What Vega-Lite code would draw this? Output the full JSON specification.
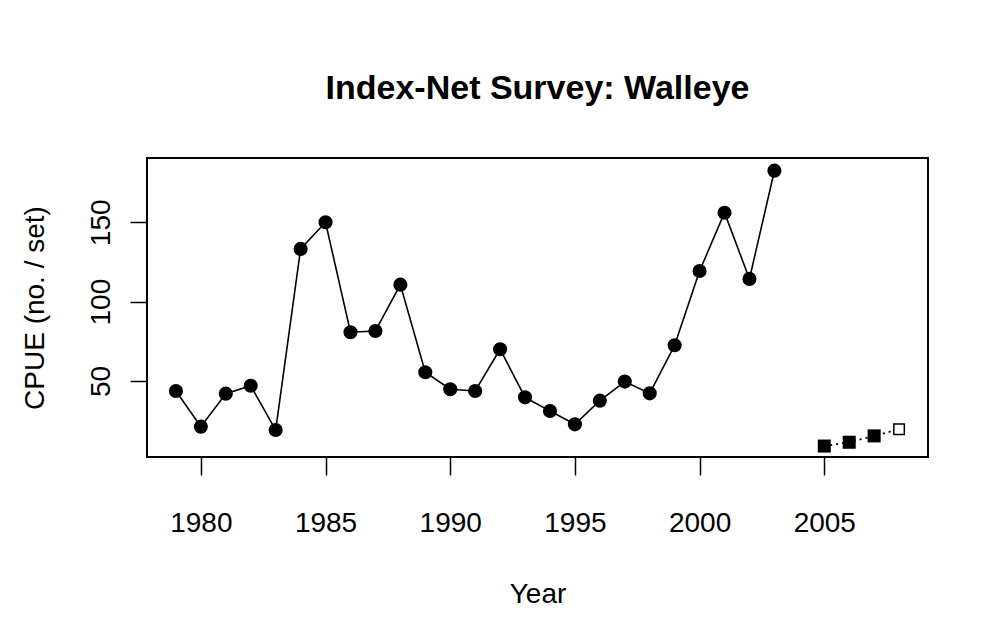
{
  "$schema": "https://vega.github.io/schema/vega-lite/v6.json",
  "autosize": {"type": "none"},
  "padding": {"left": 147, "top": 158, "right": 59, "bottom": 181},
  "width": 781,
  "height": 299,
  "background": "white",
  "title": {
    "text": "Index-Net Survey: Walleye",
    "font": "Liberation Sans",
    "fontSize": 34,
    "fontWeight": "bold",
    "color": "black",
    "anchor": "middle",
    "baseline": "alphabetic",
    "offset": 25
  },
  "data": {
    "values": [
      {"year": 1979, "cpue": 43.7, "series": "survey", "marker": "filled"},
      {"year": 1980, "cpue": 21.2, "series": "survey", "marker": "filled"},
      {"year": 1981, "cpue": 42.0, "series": "survey", "marker": "filled"},
      {"year": 1982, "cpue": 47.0, "series": "survey", "marker": "filled"},
      {"year": 1983, "cpue": 19.1, "series": "survey", "marker": "filled"},
      {"year": 1984, "cpue": 133.2, "series": "survey", "marker": "filled"},
      {"year": 1985, "cpue": 150.0, "series": "survey", "marker": "filled"},
      {"year": 1986, "cpue": 80.7, "series": "survey", "marker": "filled"},
      {"year": 1987, "cpue": 81.5, "series": "survey", "marker": "filled"},
      {"year": 1988, "cpue": 110.7, "series": "survey", "marker": "filled"},
      {"year": 1989, "cpue": 55.5, "series": "survey", "marker": "filled"},
      {"year": 1990, "cpue": 44.8, "series": "survey", "marker": "filled"},
      {"year": 1991, "cpue": 43.7, "series": "survey", "marker": "filled"},
      {"year": 1992, "cpue": 70.0, "series": "survey", "marker": "filled"},
      {"year": 1993, "cpue": 39.7, "series": "survey", "marker": "filled"},
      {"year": 1994, "cpue": 31.1, "series": "survey", "marker": "filled"},
      {"year": 1995, "cpue": 22.7, "series": "survey", "marker": "filled"},
      {"year": 1996, "cpue": 37.6, "series": "survey", "marker": "filled"},
      {"year": 1997, "cpue": 49.6, "series": "survey", "marker": "filled"},
      {"year": 1998, "cpue": 42.2, "series": "survey", "marker": "filled"},
      {"year": 1999, "cpue": 72.5, "series": "survey", "marker": "filled"},
      {"year": 2000, "cpue": 119.3, "series": "survey", "marker": "filled"},
      {"year": 2001, "cpue": 156.0, "series": "survey", "marker": "filled"},
      {"year": 2002, "cpue": 114.3, "series": "survey", "marker": "filled"},
      {"year": 2003, "cpue": 182.5, "series": "survey", "marker": "filled"},
      {"year": 2005, "cpue": 9.0, "series": "new", "marker": "filled"},
      {"year": 2006, "cpue": 11.4, "series": "new", "marker": "filled"},
      {"year": 2007, "cpue": 15.4, "series": "new", "marker": "filled"},
      {"year": 2008, "cpue": 19.6, "series": "new", "marker": "open"}
    ]
  },
  "encoding": {
    "x": {
      "field": "year",
      "type": "quantitative",
      "scale": {"domain": [1977.84, 2009.16], "nice": false, "zero": false},
      "axis": {
        "title": "Year",
        "values": [1980, 1985, 1990, 1995, 2000, 2005],
        "format": "d",
        "grid": false,
        "domain": false,
        "tickSize": 18,
        "tickColor": "black",
        "tickWidth": 1.5,
        "labelFont": "Liberation Sans",
        "labelFontSize": 28,
        "labelColor": "black",
        "labelBaseline": "alphabetic",
        "labelPadding": 56,
        "labelFlush": false,
        "labelOverlap": false,
        "titleFont": "Liberation Sans",
        "titleFontSize": 28,
        "titleFontWeight": "normal",
        "titleColor": "black",
        "titleBaseline": "alphabetic",
        "titlePadding": 65
      }
    },
    "y": {
      "field": "cpue",
      "type": "quantitative",
      "scale": {"domain": [2.1, 190.5], "nice": false, "zero": false},
      "axis": {
        "title": "CPUE (no. / set)",
        "values": [50, 100, 150],
        "grid": false,
        "domain": false,
        "tickSize": 17,
        "tickColor": "black",
        "tickWidth": 1.5,
        "labelFont": "Liberation Sans",
        "labelFontSize": 28,
        "labelColor": "black",
        "labelAngle": -90,
        "labelAlign": "center",
        "labelBaseline": "alphabetic",
        "labelPadding": 21,
        "labelFlush": false,
        "labelOverlap": false,
        "titleFont": "Liberation Sans",
        "titleFontSize": 28,
        "titleFontWeight": "normal",
        "titleColor": "black",
        "titleBaseline": "alphabetic",
        "titlePadding": 44
      }
    }
  },
  "layer": [
    {
      "transform": [{"filter": "datum.series === 'survey'"}],
      "mark": {"type": "line", "color": "black", "strokeWidth": 1.6}
    },
    {
      "transform": [{"filter": "datum.series === 'new'"}],
      "mark": {"type": "line", "color": "black", "strokeWidth": 1.8, "strokeDash": [2, 4]}
    },
    {
      "transform": [{"filter": "datum.series === 'survey'"}],
      "mark": {"type": "point", "shape": "circle", "filled": true, "color": "black", "size": 200, "opacity": 1}
    },
    {
      "transform": [{"filter": "datum.series === 'new' && datum.marker === 'filled'"}],
      "mark": {"type": "point", "shape": "square", "filled": true, "color": "black", "size": 170, "opacity": 1}
    },
    {
      "transform": [{"filter": "datum.marker === 'open'"}],
      "mark": {"type": "point", "shape": "square", "filled": true, "fill": "white", "stroke": "black", "strokeWidth": 1.5, "size": 110, "opacity": 1}
    }
  ],
  "config": {
    "view": {"stroke": "black", "strokeWidth": 2}
  }
}
